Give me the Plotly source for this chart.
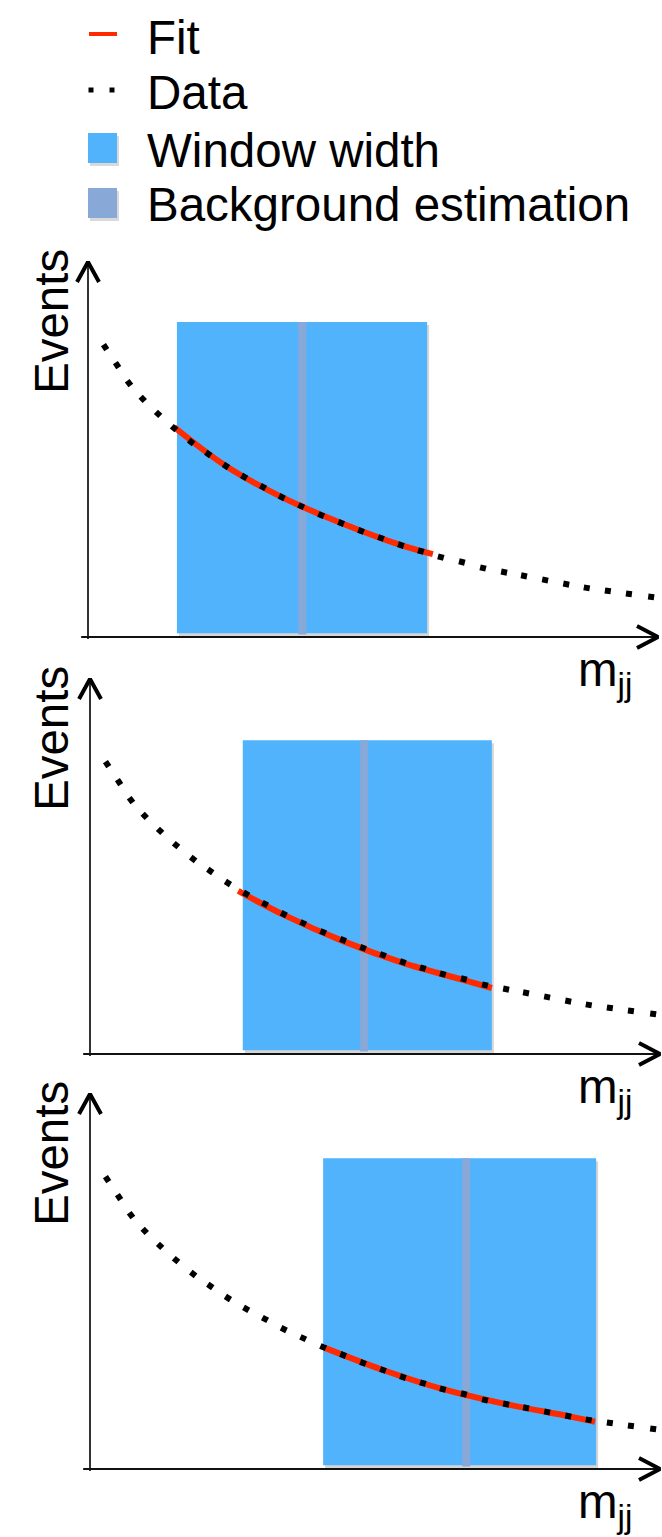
import numpy as np
import plotly.graph_objects as go

# ---------------- data (arbitrary units: both axes 0..100 along the arrows) -------------
data_x = [3.0, 5.1, 7.2, 9.6, 12.3, 15.1, 18.1, 21.1, 24.2, 27.4, 30.7, 34.0, 37.4, 40.9,
          44.4, 47.9, 51.4, 54.9, 58.4, 61.9, 65.6, 69.3, 73.0, 76.5, 80.2, 83.9, 87.5,
          91.2, 94.9, 98.8]
data_y = [77.3, 72.5, 67.7, 63.5, 59.5, 55.7, 52.0, 48.8, 45.6, 42.7, 40.0, 37.3, 34.9, 32.5,
          30.4, 28.3, 26.4, 24.5, 22.9, 21.3, 20.0, 18.4, 17.3, 16.3, 15.2, 14.1, 13.1,
          12.3, 11.5, 10.7]

fit1_x = [15.1, 24.2, 34.0, 44.4, 54.9, 60.5]
fit1_y = [56.0, 45.6, 37.3, 30.4, 24.5, 22.1]
fit2_x = [26.0, 34.0, 44.4, 54.9, 65.6, 70.5]
fit2_y = [43.5, 37.1, 30.1, 24.3, 19.7, 17.6]
fit3_x = [41.2, 51.4, 61.9, 73.0, 83.9, 88.6]
fit3_y = [32.3, 26.4, 21.3, 17.3, 14.1, 12.6]

window_lo = [15.6, 26.8, 40.9]
window_hi = [59.5, 70.5, 88.8]
window_top = [84.0, 83.7, 82.9]
window_bottom = [1.0, 1.0, 1.0]
bkg_center = [37.6, 48.1, 66.0]
bkg_width = 1.4

legend_labels = ["Fit", "Data", "Window width", "Background estimation"]
x_label = "m<sub>jj</sub>"
y_label = "Events"

# ---------------- styling / geometry ----------------
W, H = 662, 1537
FONT = "Liberation Sans, Arial, Helvetica, sans-serif"
FS = 47.5
RED = "#ff2a00"
BLUE = "#52b3fd"
BAND = "#88a8d8"
PXX, PXY = 5.7, 3.75
ORIGIN_X = [88, 90, 90]
ORIGIN_Y = [637, 1054, 1469]
YR = [-6, 104]


def xp(px):
    return px / W


def yp(py):
    return 1 - py / H


fits = [(fit1_x, fit1_y), (fit2_x, fit2_y), (fit3_x, fit3_y)]

fig = go.Figure()
shapes = []
annotations = []

# marker angles following the curve
dx = np.gradient(np.array(data_x)) * PXX
dy = -np.gradient(np.array(data_y)) * PXY
angles = np.degrees(np.arctan2(dy, dx)).tolist()

for i in range(3):
    k = "" if i == 0 else str(i + 1)
    xa, ya = "x" + k, "y" + k
    ox, oy = ORIGIN_X[i], ORIGIN_Y[i]
    xr = [-8, (661.5 - ox) / PXX]
    dom_x = [(ox + xr[0] * PXX) / W, (ox + xr[1] * PXX) / W]
    dom_y = [yp(oy - YR[0] * PXY), yp(oy - YR[1] * PXY)]
    fig.layout["xaxis" + k] = dict(domain=dom_x, range=xr, visible=False, fixedrange=True,
                                   anchor=ya)
    fig.layout["yaxis" + k] = dict(domain=dom_y, range=YR, visible=False, fixedrange=True,
                                   anchor=xa)

    # window shadow, window, background band
    sx, sy = 2 / PXX, 3 / PXY
    shapes.append(dict(type="rect", xref=xa, yref=ya, layer="below",
                       x0=window_lo[i] + sx, x1=window_hi[i] + sx,
                       y0=window_bottom[i] - sy, y1=window_top[i] - sy,
                       fillcolor="rgba(0,0,0,0.16)", line=dict(width=0)))
    shapes.append(dict(type="rect", xref=xa, yref=ya, layer="below",
                       x0=window_lo[i], x1=window_hi[i],
                       y0=window_bottom[i], y1=window_top[i],
                       fillcolor=BLUE, line=dict(width=0)))
    shapes.append(dict(type="rect", xref=xa, yref=ya, layer="below",
                       x0=bkg_center[i] - bkg_width / 2, x1=bkg_center[i] + bkg_width / 2,
                       y0=window_bottom[i] - 0.3, y1=window_top[i],
                       fillcolor=BAND, line=dict(width=0)))

    # axes lines
    fig.add_trace(go.Scatter(x=[0, 0], y=[-0.5, 99.5], xaxis=xa, yaxis=ya, mode="lines",
                             line=dict(color="#333333", width=2), hoverinfo="skip",
                             showlegend=False))
    fig.add_trace(go.Scatter(x=[-1.2, 99.5], y=[0, 0], xaxis=xa, yaxis=ya, mode="lines",
                             line=dict(color="#111111", width=2), hoverinfo="skip",
                             showlegend=False))
    # arrow heads
    fig.add_trace(go.Scatter(x=[-11 / PXX, 0, 11 / PXX], y=[100 - 20 / PXY, 100, 100 - 20 / PXY],
                             xaxis=xa, yaxis=ya, mode="lines",
                             line=dict(color="black", width=4), hoverinfo="skip",
                             showlegend=False))
    fig.add_trace(go.Scatter(x=[100 - 21 / PXX, 100, 100 - 21 / PXX], y=[11 / PXY, 0, -11 / PXY],
                             xaxis=xa, yaxis=ya, mode="lines",
                             line=dict(color="black", width=4), hoverinfo="skip",
                             showlegend=False))

    # fit
    fx, fy = fits[i]
    fig.add_trace(go.Scatter(x=fx, y=fy, xaxis=xa, yaxis=ya, mode="lines",
                             line=dict(color=RED, width=6, shape="spline"),
                             hoverinfo="skip", showlegend=False))
    # data
    fig.add_trace(go.Scatter(x=data_x, y=data_y, xaxis=xa, yaxis=ya, mode="markers",
                             marker=dict(symbol="square", size=6, color="black",
                                         angle=angles, line=dict(width=0)),
                             hoverinfo="skip", showlegend=False))

    # labels
    annotations.append(dict(text=y_label, xref="paper", yref="paper",
                            x=xp(51), y=yp(oy - 315), textangle=-90,
                            xanchor="center", yanchor="middle", showarrow=False,
                            font=dict(family=FONT, size=FS, color="black")))
    annotations.append(dict(text=x_label, xref="paper", yref="paper",
                            x=xp(576), y=yp(oy + 36), xanchor="left", yanchor="middle",
                            showarrow=False,
                            font=dict(family=FONT, size=FS, color="black")))

# ---------------- manual legend ----------------
leg_text_y = [37.5, 92, 150, 205]
# Fit dash
shapes.append(dict(type="line", xref="paper", yref="paper", x0=xp(89), x1=xp(117),
                   y0=yp(34), y1=yp(34), line=dict(color=RED, width=4)))
# Data dots
for cx in [91, 112]:
    shapes.append(dict(type="rect", xref="paper", yref="paper",
                       x0=xp(cx - 2.5), x1=xp(cx + 2.5), y0=yp(92.5), y1=yp(87.5),
                       fillcolor="black", line=dict(width=0)))
# squares
for (y0, y1, col) in [(133, 163, BLUE), (188, 218, BAND)]:
    shapes.append(dict(type="rect", xref="paper", yref="paper",
                       x0=xp(90), x1=xp(119), y0=yp(y1 + 3), y1=yp(y0 + 3),
                       fillcolor="rgba(0,0,0,0.15)", line=dict(width=0)))
    shapes.append(dict(type="rect", xref="paper", yref="paper",
                       x0=xp(88), x1=xp(117), y0=yp(y1), y1=yp(y0),
                       fillcolor=col, line=dict(width=0)))
for lab, ty in zip(legend_labels, leg_text_y):
    annotations.append(dict(text=lab, xref="paper", yref="paper", x=xp(145), y=yp(ty),
                            xanchor="left", yanchor="middle", showarrow=False,
                            font=dict(family=FONT, size=FS, color="black")))

fig.update_layout(width=W, height=H, margin=dict(l=0, r=0, t=0, b=0),
                  paper_bgcolor="white", plot_bgcolor="rgba(0,0,0,0)",
                  shapes=shapes, annotations=annotations, showlegend=False)

fig.write_html("out.html", config={"displayModeBar": False})
